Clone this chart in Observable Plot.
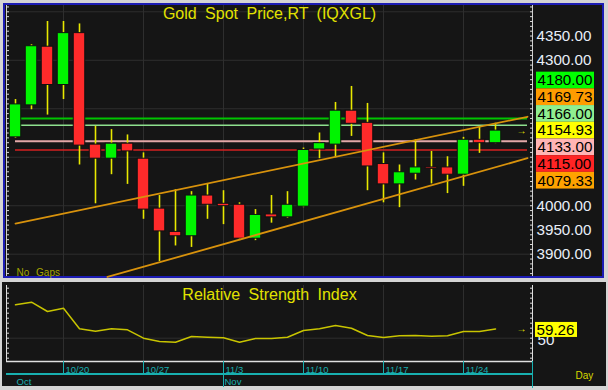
<!DOCTYPE html>
<html><head><meta charset="utf-8">
<script src="https://cdn.jsdelivr.net/npm/d3@7"></script>
<script src="https://cdn.jsdelivr.net/npm/@observablehq/plot@0.6"></script>
<style>
body{margin:0;background:#d4d4d4;}
#wrap{position:relative;width:608px;height:390px;background:#d4d4d4;overflow:hidden;font-family:"Liberation Sans",Arial,sans-serif;}
#pricebox{position:absolute;left:3px;top:3px;width:597px;height:271px;border:2px solid #1c1cb4;background:#151515;}
#rsibox{position:absolute;left:2px;top:282px;width:604px;height:104px;background:#151515;}
#cyanline{position:absolute;left:6px;top:373px;width:527px;height:2px;background:#18b0b0;}
#pricesvg{position:absolute;left:0;top:0;}
#rsisvg{position:absolute;left:0;top:278px;}
svg text{word-spacing:4px;}
</style></head>
<body><div id="wrap"><div id="pricebox"></div><div id="rsibox"></div><div id="cyanline"></div><div id="pricesvg"></div><div id="rsisvg"></div></div>
<script>
// ---------- data ----------
const dates = ["10/15","10/16","10/17","10/20","10/21","10/22","10/23","10/24","10/27","10/28","10/29","10/30","10/31",
  "11/3","11/4","11/5","11/6","11/7","11/10","11/11","11/12","11/13","11/14","11/17","11/18","11/19","11/20","11/21","11/24","11/25","11/26"];
const open  = [4141,4207,4328,4249,4356,4126,4097,4128,4097,3994,3946,3937,4021,4004,4002,3932,3982,3976,3998,4116,4126,4196,4171,4086,4044,4066,4079,4079,4064,4136,4129];
const high  = [4219,4332,4380,4380,4375,4164,4157,4146,4109,4021,4033,4029,4045,4031,4006,3992,4021,4029,4119,4150,4213,4246,4211,4109,4084,4136,4112,4101,4141,4163,4170];
const low   = [4139,4198,4187,4219,4084,4004,4064,4044,3972,3885,3917,3914,3972,3961,3928,3928,3964,3974,3996,4097,4099,4143,4031,4006,3996,4053,4045,4025,4040,4108,4128];
const close = [4209,4329,4249,4356,4124,4097,4128,4112,3992,3947,3937,4021,4002,3999,3932,3981,3976,4002,4115,4129,4196,4169,4081,4044,4069,4079,4076,4064,4136,4129,4154.93];
const rsi   = [83.4,86,76.7,80,59.4,57,59.4,58.4,50,46.7,46,51.7,51,50.4,46,49.7,49.7,51,57.7,59.4,62.7,60,52.7,50.7,52.4,52.7,52,52.4,56.7,56.7,59.26];

const weekLabels = ["10/20","10/27","11/3","11/10","11/17","11/24"];
const monthLabels = ["Oct","Nov"];
const monthFirstDates = ["10/15","11/3"];

const levelValues = [4180, 4169.73, 4166, 4154.93, 4133, 4115, 4079.33];
const levelColors = ["#00ff00","#ff9c00","#90ee90","#ffff00","#ffb4b4","#ff2424","#ffa200"];
const levelLineValues = [4180, 4166, 4133, 4115];
const levelLineColors = ["#00c400","#8ee08e","#e4a8a8","#d42020"];
const levelLineWidths = [2, 1.5, 2, 1.5];

const upperTrendIdx = [0, 32], upperTrendVals = [3963, 4183.5];
const lowerTrendIdx = [5.75, 32], lowerTrendVals = [3853, 4098];

const priceTickLabels = [4350, 4300, 4000, 3950, 3900];
const rsiTickLabels = [50];
const lastRsi = 59.26;

const titleText = "Gold Spot Price,RT (IQXGL)";
const rsiTitle = "Relative Strength Index";

// ---------- layout ----------
const FONT = '"Liberation Sans", Arial, sans-serif';
const W = 608, PH = 278, RH = 108;
const ML = 6, MR = 76;
const xDomain = [-0.5625, 32.3125];
const priceDomain = [3854, 4413];
const rsiDomain = [26.7, 102.7];
const GRID = "#2e2e2e";
const YEL = "#e2e200";
const CYAN = "#18b0b0";
const LABEL_SIZE = 15.2;

const candles = dates.map((d, i) => ({i, date: d, o: open[i], h: high[i], l: low[i], c: close[i], up: close[i] >= open[i]}));
const weeks = weekLabels.map(l => ({i: dates.indexOf(l), label: l}));
const months = monthLabels.map((m, k) => ({i: dates.indexOf(monthFirstDates[k]), label: m}));
const lineEnd = dates.length + 1;
const levelLines = levelLineValues.map((v, k) => ({v, color: levelLineColors[k], w: levelLineWidths[k]}));
const upper = upperTrendIdx.map((i, k) => ({i, v: upperTrendVals[k]}));
const lower = lowerTrendIdx.map((i, k) => ({i, v: lowerTrendVals[k]}));

const xS = Plot.scale({x: {domain: xDomain, range: [ML, W - MR]}});
const yS = Plot.scale({y: {domain: priceDomain, range: [PH - 2, 5]}});
const last = close[close.length - 1];
const anchorK = levelValues.indexOf(last);
const anchorPx = yS.apply(last);
const boxH = 16.7;
const boxX1 = xS.invert(W - MR + 4), boxX2 = xS.invert(W - MR + 62);
const tags = levelValues.map((v, k) => {
  const cy = anchorPx + (k - anchorK) * boxH;
  return {v, color: levelColors[k], y1: yS.invert(cy - boxH / 2), y2: yS.invert(cy + boxH / 2), ym: yS.invert(cy)};
});

const pricePlot = Plot.plot({
  width: W, height: PH, marginLeft: ML, marginRight: MR, marginTop: 5, marginBottom: 2,
  style: {background: "transparent", fontFamily: FONT, overflow: "visible"},
  x: {domain: xDomain, axis: null},
  y: {domain: priceDomain},
  marks: [
    Plot.ruleY(d3.range(3900, 4401, 100), {stroke: GRID}),
    Plot.ruleX(weeks, {x: "i", stroke: GRID}),
    Plot.ruleX(xDomain, {stroke: "#cfcfcf"}),
    Plot.axisY(d3.range(3860, 4411, 10), {anchor: "left", tickSize: 3, dx: 3, fill: "none", stroke: "#d8d8d8", label: null}),
    Plot.axisY(d3.range(3860, 4411, 10), {anchor: "right", tickSize: 3, dx: -3, fill: "none", stroke: "#d8d8d8", label: null}),
    Plot.ruleY(levelLines, {y: "v", x1: () => 0, x2: () => lineEnd, stroke: "color", strokeWidth: "w"}),
    Plot.ruleX(candles, {x: "i", y1: "l", y2: "h", stroke: "#e8e800", strokeWidth: 1.6}),
    Plot.rect(candles, {x1: d => d.i - 0.36, x2: d => d.i + 0.36, y1: "o", y2: "c",
      fill: d => d.up ? "#00f400" : "#ff2a2a", stroke: "#101010", strokeWidth: 1}),
    Plot.line(upper, {x: "i", y: "v", stroke: "#d8920c", strokeWidth: 1.8}),
    Plot.line(lower, {x: "i", y: "v", stroke: "#d8920c", strokeWidth: 1.8}),
    Plot.axisY(priceTickLabels, {anchor: "right", tickSize: 0, tickPadding: 4, tickFormat: d => d.toFixed(2),
      fontSize: LABEL_SIZE, fill: "#e8eef8", label: null}),
    Plot.rect(tags, {x1: () => boxX1, x2: () => boxX2, y1: "y1", y2: "y2", fill: "color"}),
    Plot.text(tags, {x: () => boxX1, y: "ym", dx: 1, text: d => d.v.toFixed(2), textAnchor: "start", fill: "#000", fontSize: LABEL_SIZE}),
    Plot.text([last], {y: d => d, frameAnchor: "right", dx: -6, text: () => "→", fill: "#e8e800", fontSize: 10}),
    Plot.text([titleText], {text: d => d, frameAnchor: "top", lineAnchor: "top", dy: 2, fontSize: 16, fill: YEL}),
    Plot.text(["No Gaps"], {text: d => d, frameAnchor: "bottom-left", lineAnchor: "bottom", dx: 10, dy: -1, fontSize: 10, fill: "#a4a400"})
  ]
});
document.getElementById("pricesvg").appendChild(pricePlot);

const rsiData = rsi.map((v, i) => ({i, v}));
const rsiYS = Plot.scale({y: {domain: rsiDomain, range: [RH - 25, 7]}});
const rsiPx = rsiYS.apply(lastRsi);
const rsiBox = {y1: rsiYS.invert(rsiPx - 6.5), y2: rsiYS.invert(rsiPx + 8.5), ym: rsiYS.invert(rsiPx + 1)};

const rsiPlot = Plot.plot({
  width: W, height: RH, marginLeft: ML, marginRight: MR, marginTop: 7, marginBottom: 25,
  style: {background: "transparent", fontFamily: FONT, overflow: "visible"},
  x: {domain: xDomain},
  y: {domain: rsiDomain},
  marks: [
    Plot.ruleY(rsiTickLabels, {stroke: GRID}),
    Plot.ruleX(weeks, {x: "i", stroke: GRID}),
    Plot.ruleX(xDomain, {stroke: "#e0e0e0"}),
    Plot.ruleY([rsiDomain[0]], {stroke: "#e0e0e0", strokeWidth: 1.5}),
    Plot.axisY(d3.range(30, 101, 5), {anchor: "left", tickSize: 3, dx: 3, fill: "none", stroke: "#d8d8d8", label: null}),
    Plot.axisY(d3.range(30, 101, 5), {anchor: "right", tickSize: 3, dx: -3, fill: "none", stroke: "#d8d8d8", label: null}),
    Plot.line(rsiData, {x: "i", y: "v", stroke: "#c8c400", strokeWidth: 1.5}),
    Plot.axisY(rsiTickLabels, {anchor: "right", tickSize: 0, tickPadding: 5, dy: 2, fontSize: LABEL_SIZE, fill: "#e8eef8", label: null}),
    Plot.rect([rsiBox], {x1: () => xS.invert(W - MR + 3), x2: () => xS.invert(W - MR + 45), y1: "y1", y2: "y2", fill: "#ffff00"}),
    Plot.text([rsiBox], {x: () => xS.invert(W - MR + 3), y: "ym", dx: 1, text: () => lastRsi.toFixed(2), textAnchor: "start", fill: "#000", fontSize: LABEL_SIZE}),
    Plot.text([lastRsi], {y: d => d, frameAnchor: "right", dx: -6, text: () => "→", fill: "#e8e800", fontSize: 10}),
    Plot.text([rsiTitle], {text: d => d, frameAnchor: "top", lineAnchor: "top", dy: 3, fontSize: 16, fill: YEL}),
    Plot.axisX(weeks.map(d => d.i), {anchor: "bottom", tickSize: 12, stroke: CYAN, fill: "none", label: null}),
    Plot.axisX(months.filter(d => d.i > 0).map(d => d.i), {anchor: "bottom", tickSize: 26, stroke: CYAN, fill: "none", label: null}),
    Plot.axisX([xDomain[1]], {anchor: "bottom", tickSize: 27, stroke: CYAN, fill: "none", label: null}),
    Plot.text(weeks, {x: "i", text: "label", frameAnchor: "bottom", lineAnchor: "top", textAnchor: "start", dx: 2, dy: 4.5, fontSize: 9.5, fill: CYAN}),
    Plot.text(months, {x: "i", text: "label", frameAnchor: "bottom", lineAnchor: "top", textAnchor: "start", dx: 1, dy: 16.5, fontSize: 9.5, fill: CYAN}),
    Plot.text(["Day"], {text: d => d, frameAnchor: "bottom-right", lineAnchor: "top", textAnchor: "start", dx: 43, dy: 10, fontSize: 10, fill: "#d8d800"})
  ]
});
document.getElementById("rsisvg").appendChild(rsiPlot);
</script>
</body></html>
